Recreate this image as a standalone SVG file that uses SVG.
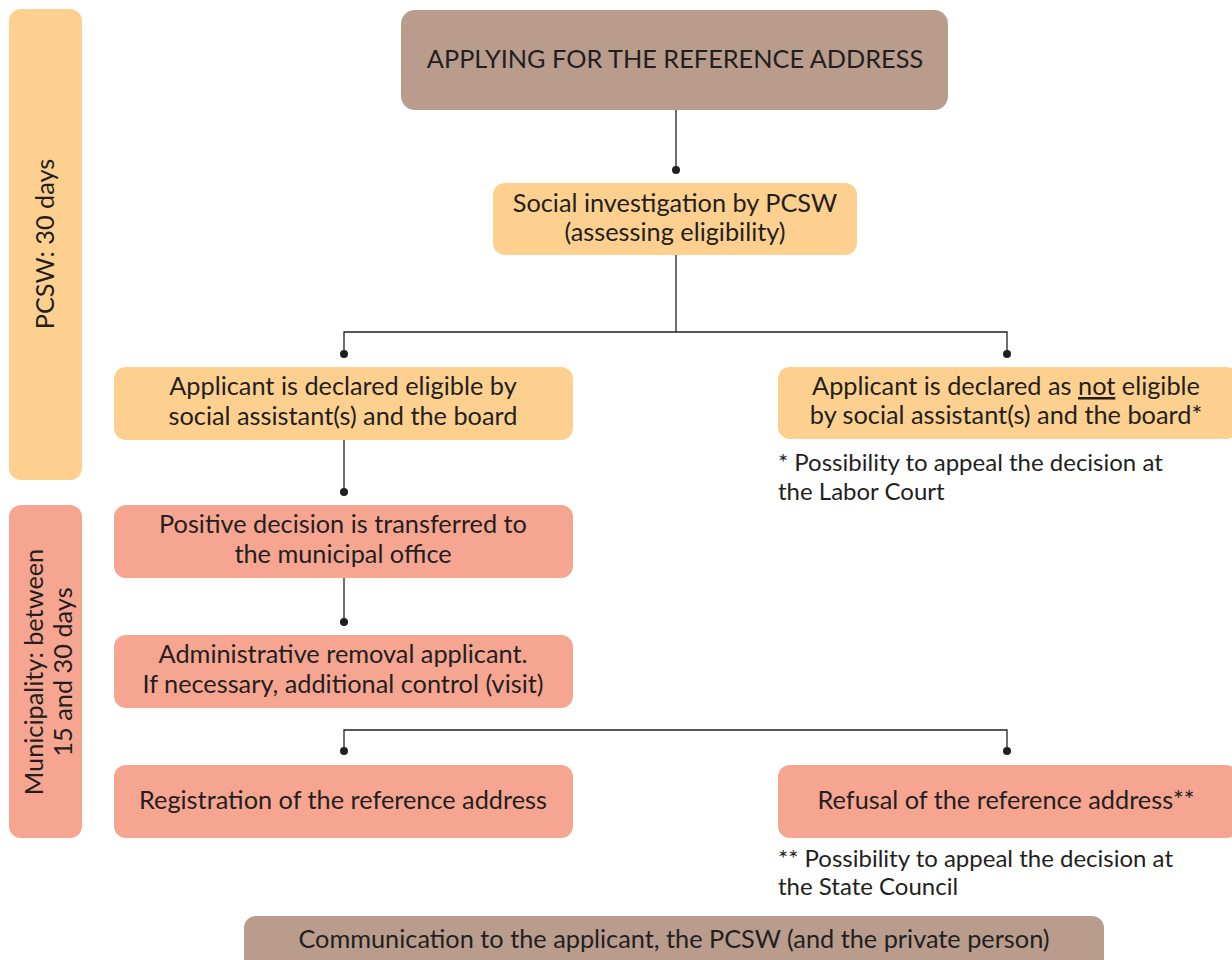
<svg xmlns="http://www.w3.org/2000/svg" width="1232" height="960" viewBox="0 0 1232 960">
<style>
.t{font-family:Lato,"Liberation Sans",sans-serif;font-size:25.3px;fill:#231f20;text-anchor:middle}
.n{font-family:Lato,"Liberation Sans",sans-serif;font-size:24px;fill:#231f20}
.brown{fill:#b99c8c}
.yel{fill:#fdd08f}
.sal{fill:#f6a591}
.ln{stroke:#231f20;stroke-width:1.3;fill:none}
.dot{fill:#231f20}
</style>
<rect width="1232" height="960" fill="#ffffff"/>
<g id="bar-pcsw">
<rect class="yel" x="9" y="9" width="73" height="471" rx="12"/>
<text class="t" transform="translate(54,244) rotate(-90)">PCSW: 30 days</text>
</g>
<g id="bar-municipality">
<rect class="sal" x="9" y="505" width="73" height="333" rx="12"/>
<text class="t" transform="translate(43,672) rotate(-90)">Municipality: between</text>
<text class="t" transform="translate(72,672) rotate(-90)">15 and 30 days</text>
</g>
<g id="connectors">
<line class="ln" x1="676" y1="110" x2="676" y2="170"/>
<circle class="dot" cx="676" cy="170" r="4"/>
<polyline class="ln" points="676,255 676,332"/>
<polyline class="ln" points="344,354 344,332 1007,332 1007,354"/>
<circle class="dot" cx="344" cy="354" r="4"/>
<circle class="dot" cx="1007" cy="354" r="4"/>
<line class="ln" x1="344" y1="440" x2="344" y2="492"/>
<circle class="dot" cx="344" cy="492" r="4"/>
<line class="ln" x1="344" y1="578" x2="344" y2="622"/>
<circle class="dot" cx="344" cy="622" r="4"/>
<polyline class="ln" points="344,751 344,730 1007,730 1007,751"/>
<circle class="dot" cx="344" cy="751" r="4"/>
<circle class="dot" cx="1007" cy="751" r="4"/>
</g>
<g id="n-apply">
<rect class="brown" x="401" y="10" width="547" height="100" rx="14"/>
<text class="t" x="675" y="68">APPLYING FOR THE REFERENCE ADDRESS</text>
</g>
<g id="n-social">
<rect class="yel" x="493" y="183" width="364" height="72" rx="12"/>
<text class="t" x="675" y="212">Social investigation by PCSW</text>
<text class="t" x="675" y="241">(assessing eligibility)</text>
</g>
<g id="n-eligible">
<rect class="yel" x="114" y="367" width="459" height="73" rx="12"/>
<text class="t" x="343" y="395">Applicant is declared eligible by</text>
<text class="t" x="343" y="425">social assistant(s) and the board</text>
</g>
<g id="n-noteligible">
<rect class="yel" x="778" y="367" width="460" height="72" rx="12"/>
<text class="t" x="1006" y="395">Applicant is declared as <tspan text-decoration="underline">not</tspan> eligible</text>
<text class="t" x="1006" y="424">by social assistant(s) and the board*</text>
</g>
<g id="note-labor">
<text class="n" x="778" y="471">* Possibility to appeal the decision at</text>
<text class="n" x="778" y="500">the Labor Court</text>
</g>
<g id="n-positive">
<rect class="sal" x="114" y="505" width="459" height="73" rx="12"/>
<text class="t" x="343" y="533">Positive decision is transferred to</text>
<text class="t" x="343" y="563">the municipal office</text>
</g>
<g id="n-admin">
<rect class="sal" x="114" y="635" width="459" height="73" rx="12"/>
<text class="t" x="343" y="663">Administrative removal applicant.</text>
<text class="t" x="343" y="693">If necessary, additional control (visit)</text>
</g>
<g id="n-registration">
<rect class="sal" x="114" y="765" width="459" height="73" rx="12"/>
<text class="t" x="343" y="809">Registration of the reference address</text>
</g>
<g id="n-refusal">
<rect class="sal" x="778" y="765" width="460" height="73" rx="12"/>
<text class="t" x="1006" y="809">Refusal of the reference address**</text>
</g>
<g id="note-state">
<text class="n" x="778" y="867">** Possibility to appeal the decision at</text>
<text class="n" x="778" y="895">the State Council</text>
</g>
<g id="n-communication">
<rect class="brown" x="244" y="916" width="860" height="60" rx="12"/>
<text class="t" x="674" y="948">Communication to the applicant, the PCSW (and the private person)</text>
</g>
</svg>
